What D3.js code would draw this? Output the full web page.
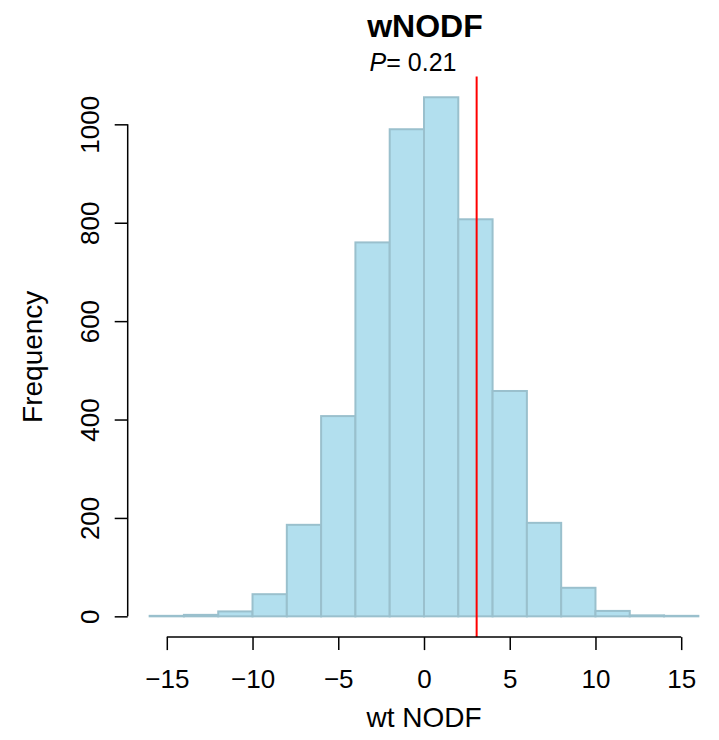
<!DOCTYPE html>
<html>
<head>
<meta charset="utf-8">
<script src="https://cdn.jsdelivr.net/npm/d3@7"></script>
<style>
  html, body { margin: 0; padding: 0; background: #fff; }
  text { font-family: "Liberation Sans", Arial, Helvetica, sans-serif; }
</style>
</head>
<body>
<svg id="chart" width="719" height="740"></svg>
<script>
// ---- data ----
const binStarts = [-16, -14, -12, -10, -8, -6, -4, -2, 0, 2, 4, 6, 8, 10, 12, 14];
const binWidth = 2;
const counts = [1, 3, 10, 45, 186, 407, 760, 990, 1055, 807, 458, 190, 58, 11, 2, 1];
const observed = 3.07;
const xTicks = [-15, -10, -5, 0, 5, 10, 15];
const yTicks = [0, 200, 400, 600, 800, 1000];
const titleText = "wNODF";
const pValue = "0.21";
const xLabel = "wt NODF";
const yLabel = "Frequency";

// ---- layout ----
const svg = d3.select("#chart");
const plot = { left: 127.7, right: 720.3, top: 76.5, bottom: 637.1 };

const xMin = -16, xMax = 16;
const xPad = (xMax - xMin) * 0.04;
const x = d3.scaleLinear().domain([xMin - xPad, xMax + xPad]).range([plot.left, plot.right]);
const yMaxData = d3.max(counts);
const yPad = yMaxData * 0.04;
const y = d3.scaleLinear().domain([-yPad, yMaxData + yPad]).range([plot.bottom, plot.top]);

const bins = binStarts.map((s, i) => ({ x0: s, x1: s + binWidth, n: counts[i] }));

// bars
svg.append("g").selectAll("rect").data(bins).join("rect")
  .attr("x", d => x(d.x0))
  .attr("y", d => y(d.n))
  .attr("width", d => x(d.x1) - x(d.x0))
  .attr("height", d => y(0) - y(d.n))
  .attr("fill", "#B2DFEE")
  .attr("stroke", "#9AC0CD")
  .attr("stroke-width", 2);

// observed line
svg.append("line")
  .attr("x1", x(observed)).attr("x2", x(observed))
  .attr("y1", plot.top).attr("y2", plot.bottom)
  .attr("stroke", "#FF0000").attr("stroke-width", 2);

const tickFont = 26;

// x axis
const xAxis = d3.axisBottom(x).tickValues(xTicks).tickSize(13)
  .tickFormat(d => d < 0 ? "\u2212" + Math.abs(d) : String(d));
const gx = svg.append("g").attr("transform", `translate(0,${plot.bottom})`).call(xAxis);
gx.select(".domain").attr("d", `M${x(xTicks[0])},0H${x(xTicks[xTicks.length-1])}`)
  .attr("stroke", "#000").attr("stroke-width", 1.5);
gx.selectAll(".tick line").attr("stroke", "#000").attr("stroke-width", 1.5);
gx.selectAll(".tick text").attr("font-size", tickFont).attr("fill", "#000")
  .attr("font-family", "'Liberation Sans', Arial, sans-serif")
  .attr("y", 688 - plot.bottom).attr("dy", null);

// y axis
const yAxis = d3.axisLeft(y).tickValues(yTicks).tickSize(13).tickFormat(d3.format("d"));
const gy = svg.append("g").attr("transform", `translate(${plot.left},0)`).call(yAxis);
gy.select(".domain").attr("d", `M0,${y(yTicks[0])}V${y(yTicks[yTicks.length-1])}`)
  .attr("stroke", "#000").attr("stroke-width", 1.5);
gy.selectAll(".tick line").attr("stroke", "#000").attr("stroke-width", 1.5);
gy.selectAll(".tick text")
  .attr("font-size", tickFont).attr("fill", "#000")
  .attr("font-family", "'Liberation Sans', Arial, sans-serif")
  .attr("x", null).attr("dy", null)
  .attr("text-anchor", "middle")
  .attr("transform", `translate(-29,0) rotate(-90)`);

// axis titles
svg.append("text")
  .attr("x", (plot.left + plot.right) / 2).attr("y", 727)
  .attr("text-anchor", "middle").attr("font-size", 28).attr("fill", "#000")
  .text(xLabel);
svg.append("text")
  .attr("transform", `translate(42,${(plot.top + plot.bottom) / 2}) rotate(-90)`)
  .attr("text-anchor", "middle").attr("font-size", 28).attr("fill", "#000")
  .text(yLabel);

// title
svg.append("text")
  .attr("x", (plot.left + plot.right) / 2 + 1).attr("y", 37)
  .attr("text-anchor", "middle").attr("font-size", 32).attr("font-weight", "bold").attr("fill", "#000")
  .text(titleText);

// P value subtitle
const sub = svg.append("text")
  .attr("x", 413).attr("y", 71)
  .attr("text-anchor", "middle").attr("font-size", 25).attr("fill", "#000");
sub.append("tspan").attr("font-style", "italic").text("P");
sub.append("tspan").text("= " + pValue);
</script>
</body>
</html>
